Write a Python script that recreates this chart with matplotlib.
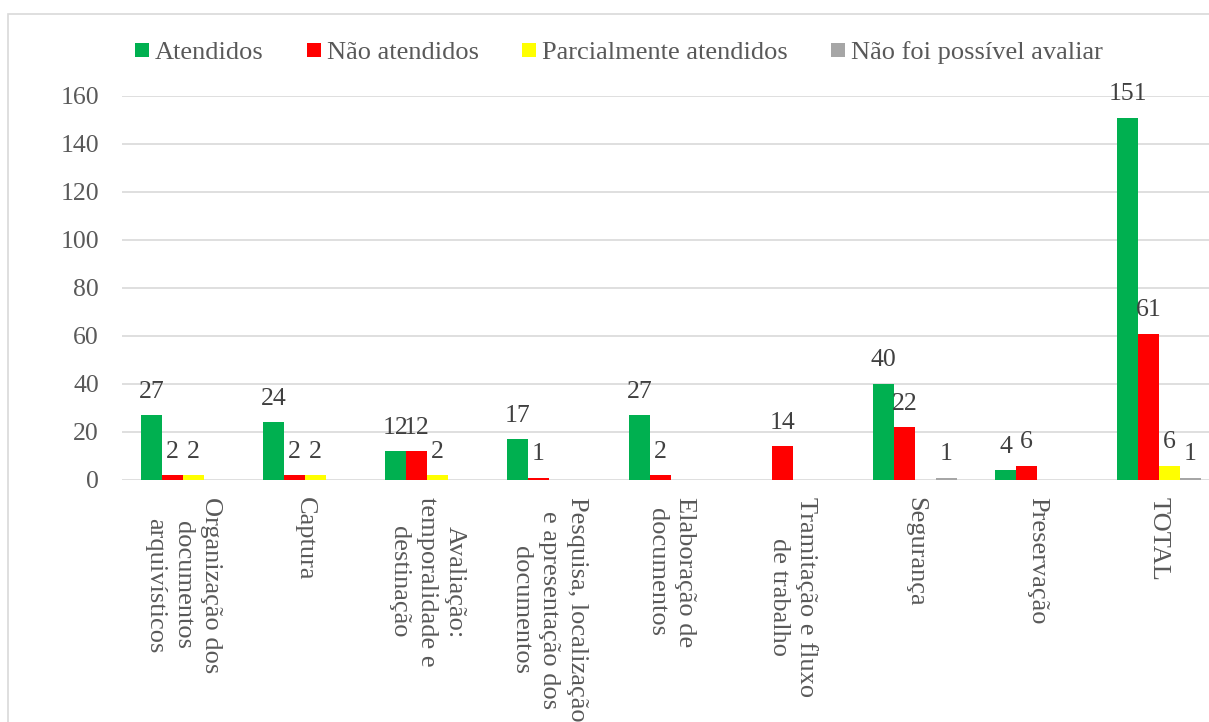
import matplotlib
matplotlib.use("Agg")
import matplotlib.pyplot as plt
from matplotlib.patches import Rectangle, Patch
import numpy as np

categories = [
    "Organização dos\ndocumentos\narquivísticos",
    "Captura",
    "Avaliação:\ntemporalidade e\ndestinação",
    "Pesquisa, localização\ne apresentação dos\ndocumentos",
    "Elaboração de\ndocumentos",
    "Tramitação e fluxo\nde trabalho",
    "Segurança",
    "Preservação",
    "TOTAL",
]
series_names = ["Atendidos", "Não atendidos", "Parcialmente atendidos", "Não foi possível avaliar"]
atendidos = [27, 24, 12, 17, 27, 0, 40, 4, 151]
nao_atendidos = [2, 2, 12, 1, 2, 14, 22, 6, 61]
parcialmente = [2, 2, 2, 0, 0, 0, 0, 0, 6]
nao_avaliar = [0, 0, 0, 0, 0, 0, 1, 0, 1]
colors = ["#00B050", "#FF0000", "#FFFF00", "#A6A6A6"]
yticks = [0, 20, 40, 60, 80, 100, 120, 140, 160]

plt.rcParams['font.family'] = ['Liberation Serif', 'DejaVu Serif']

W, H = 1209, 722
fig = plt.figure(figsize=(W / 100, H / 100), dpi=100)

# chart border
fig.patches.append(Rectangle((8 / W, -0.1), 1.2, (H - 14) / H + 0.1, transform=fig.transFigure,
                             fill=False, edgecolor="#D9D9D9", linewidth=1.2))

ax = fig.add_axes([122 / W, (H - 480) / H, 1098 / W, 384 / H])
n = len(categories)
x = np.arange(n)
w = 0.172
data = [atendidos, nao_atendidos, parcialmente, nao_avaliar]
for k, (vals, c, name) in enumerate(zip(data, colors, series_names)):
    bars = ax.bar(x + (k - 1.5) * w, vals, width=w, color=c, label=name, zorder=3)
    labels = [str(v) if v != 0 else "" for v in vals]
    ax.bar_label(bars, labels=labels, padding=9, fontsize=18.5, color="#404040")

ax.set_xlim(-0.5, 8.5)
ax.set_ylim(0, 160)
ax.set_yticks(yticks)
ax.grid(axis="y", color="#D9D9D9", linewidth=1.2, zorder=0)
ax.set_axisbelow(True)
for s in ax.spines.values():
    s.set_visible(False)
ax.tick_params(axis="y", length=0, pad=16.5, labelsize=18.5, labelcolor="#595959")
ax.set_xticks(x)
ax.set_xticklabels(categories, rotation=270, ha="center", va="top", multialignment="center",
                   fontsize=19, color="#595959", linespacing=1.35)
ax.tick_params(axis="x", length=0, pad=12.5)

handles = [Patch(facecolor=c, edgecolor="none", label=nm) for c, nm in zip(colors, series_names)]
fig.legend(handles=handles, loc="center left", bbox_to_anchor=(135 / W, 1 - 53 / H), ncol=4,
           frameon=False, fontsize=19, handlelength=0.53, handleheight=0.47, borderpad=0,
           borderaxespad=0, handletextpad=0.23, columnspacing=1.63, labelcolor="#595959")

fig.savefig("out.png", dpi=100)
